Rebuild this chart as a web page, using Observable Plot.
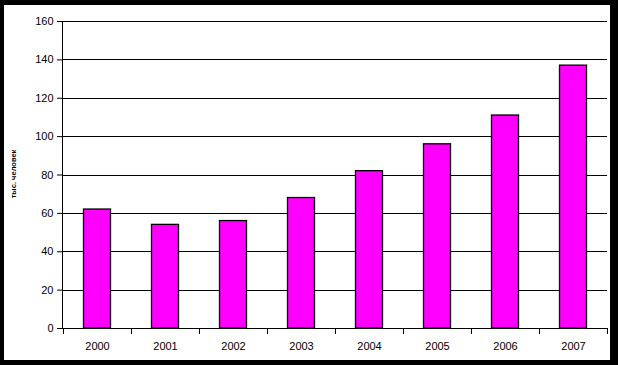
<!DOCTYPE html>
<html>
<head>
<meta charset="utf-8">
<script src="https://cdn.jsdelivr.net/npm/d3@7"></script>
<script src="https://cdn.jsdelivr.net/npm/@observablehq/plot@0.6"></script>
<style>
  html, body { margin: 0; padding: 0; background: black; }
  #frame { background: black; padding: 5px 8px 5px 4px; width: 606px; height: 355px; }
  #frame svg { display: block; }
</style>
</head>
<body>
<div id="frame"></div>
<script>
const years = ["2000", "2001", "2002", "2003", "2004", "2005", "2006", "2007"];
const values = [62, 54, 56, 68, 82, 96, 111, 137];
const yTicks = [0, 20, 40, 60, 80, 100, 120, 140, 160];
const yLabel = "тыс. человек";

const data = years.map((year, i) => ({year, value: values[i]}));

const boundaryTicks = (index, scales, values, dims) => {
  const {x, y} = scales;
  const g = d3.create("svg:g").attr("stroke", "black").attr("shape-rendering", "crispEdges");
  const xs = years.map(d => x(d)).concat([x(years[years.length - 1]) + x.bandwidth()]);
  const y0 = y(0);
  for (const xv of xs) {
    g.append("line")
      .attr("x1", Math.round(xv) + 0.5).attr("x2", Math.round(xv) + 0.5)
      .attr("y1", Math.round(y0)).attr("y2", Math.round(y0) + 6);
  }
  g.append("line")
    .attr("x1", dims.marginLeft + 0.5).attr("x2", dims.marginLeft + 0.5)
    .attr("y1", Math.round(y(160))).attr("y2", Math.round(y0) + 1);
  return g.node();
};

const chart = Plot.plot({
  width: 606,
  height: 355,
  marginLeft: 58,
  marginRight: 3,
  marginTop: 16,
  marginBottom: 32,
  style: {background: "white", color: "black", fontFamily: "'Liberation Sans', Arial, sans-serif", fontSize: "11px"},
  x: {domain: years, padding: 0, label: null},
  y: {domain: [0, 160], label: null},
  marks: [
    Plot.ruleY(yTicks, {stroke: "black", strokeWidth: 1, shapeRendering: "crispEdges"}),
    Plot.barY(data, {x: "year", y: "value", fill: "#ff00ff", stroke: "black", strokeWidth: 1.3, insetLeft: 20.5, insetRight: 20.5}),
    Plot.axisY({ticks: yTicks, tickSize: 5, tickPadding: 4, label: null, fontSize: 11}),
    Plot.axisX({tickSize: 0, tickPadding: 14, label: null, fontSize: 11}),
    boundaryTicks,
    Plot.text([yLabel], {text: d => d, frameAnchor: "left", textAnchor: "middle", rotate: -90, dx: -49, dy: -1, fontSize: 7.5, fontWeight: "bold", fill: "black"})
  ]
});
document.getElementById("frame").appendChild(chart);
</script>
</body>
</html>
